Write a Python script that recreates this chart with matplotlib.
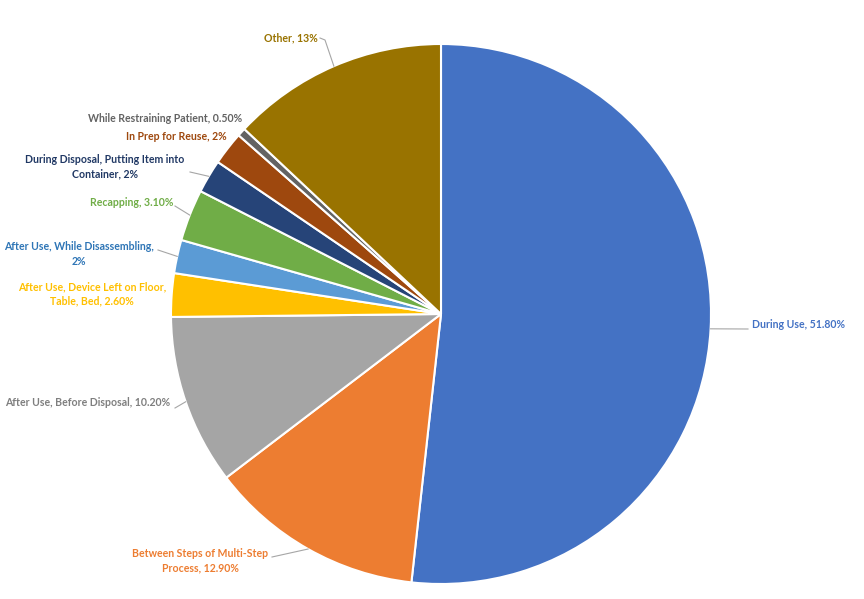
import numpy as np
import matplotlib
matplotlib.use("Agg")
import matplotlib.pyplot as plt

categories = ["During Use", "Between Steps of Multi-Step\nProcess", "After Use, Before Disposal",
              "After Use, Device Left on Floor,\nTable, Bed", "After Use, While Disassembling,\n",
              "Recapping", "During Disposal, Putting Item into\nContainer", "In Prep for Reuse",
              "While Restraining Patient", "Other"]
values = [51.8, 12.9, 10.2, 2.6, 2.0, 3.1, 2.0, 2.0, 0.5, 13.0]
value_labels = ["51.80%", "12.90%", "10.20%", "2.60%", "2%", "3.10%", "2%", "2%", "0.50%", "13%"]
colors = ["#4472C4", "#ED7D31", "#A5A5A5", "#FFC000", "#5B9BD5", "#70AD47",
          "#264478", "#9E480E", "#636363", "#997300"]
text_colors = ["#4472C4", "#ED7D31", "#7F7F7F", "#FFC000", "#2E75B6", "#70AD47",
               "#203864", "#9E480E", "#636363", "#997300"]

W, H = 864, 599
fig = plt.figure(figsize=(W / 100, H / 100), dpi=100)
ax = fig.add_axes([0, 0, 1, 1])

cx, cy, R = 441, H - 314, 270
wedges, _ = ax.pie(values, colors=colors, startangle=90, counterclock=False,
                   center=(cx, cy), radius=R, frame=True,
                   wedgeprops=dict(edgecolor="white", linewidth=1.5))
ax.set_xlim(0, W)
ax.set_ylim(0, H)
ax.set_aspect("equal")
ax.axis("off")

def Y(y):
    return H - y

# label layout: (x, y, ha, leader path points in pixel coords (excluding the arc point) or None)
layout = [
    (752, 325, "left", [(748, 329)]),
    (200, 561, "center", [(272, 557)]),
    (170, 403, "right", [(175, 408)]),
    (92, 294, "center", None),
    (79, 254, "center", [(158, 250)]),
    (173, 203, "right", [(175, 206)]),
    (105, 167, "center", [(190, 172)]),
    (227, 137, "right", None),
    (242, 119, "right", None),
    (318, 38, "right", [(325, 40), (320, 38)]),
]

for i, w in enumerate(wedges):
    cat = categories[i]
    if cat.endswith("\n"):
        txt = cat + value_labels[i]
    else:
        txt = cat + ", " + value_labels[i]
    x, y, ha, path = layout[i]
    ax.text(x, Y(y), txt, ha=ha, va="center", multialignment="center",
            fontsize=7.6, fontweight="bold", family=["Lato", "DejaVu Sans"],
            color=text_colors[i], linespacing=1.35)
    if path:
        ang = np.deg2rad((w.theta1 + w.theta2) / 2)
        px = cx + R * np.cos(ang)
        py = cy + R * np.sin(ang)
        xs = [px] + [p[0] for p in path]
        ys = [py] + [Y(p[1]) for p in path]
        ax.plot(xs, ys, color="#A6A6A6", linewidth=0.8)

fig.savefig("out.png", dpi=100)
